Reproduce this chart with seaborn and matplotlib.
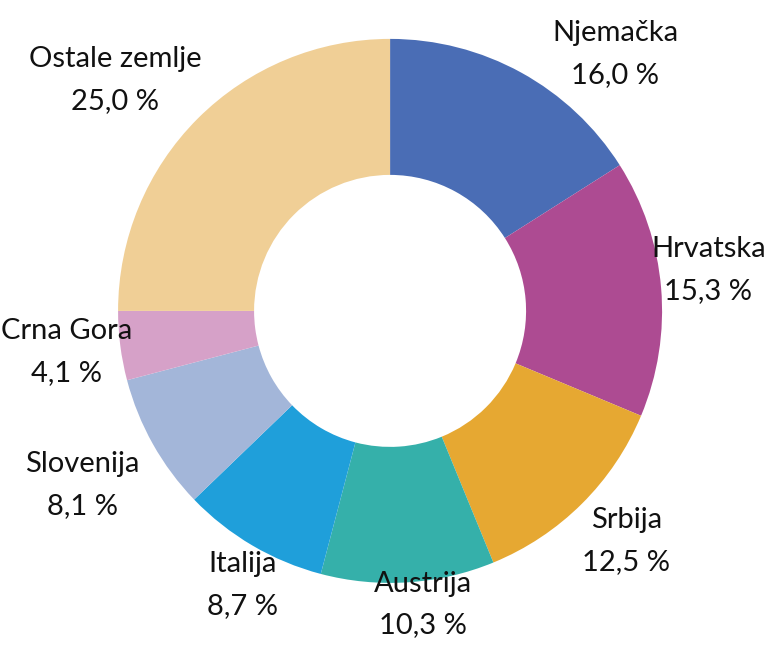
import seaborn as sns
import matplotlib.pyplot as plt

# Podaci
zemlje = ['Njemačka', 'Hrvatska', 'Srbija', 'Austrija', 'Italija',
          'Slovenija', 'Crna Gora', 'Ostale zemlje']
udjeli = [16.0, 15.3, 12.5, 10.3, 8.7, 8.1, 4.1, 25.0]
boje = ['#4a6db5', '#ad4b92', '#e6a832', '#35b0aa', '#1f9fda',
        '#a3b6d9', '#d6a1c8', '#f0cf96']

sns.set_theme(style='white')
plt.rcParams['font.family'] = ['Lato', 'DejaVu Sans']

fig = plt.figure(figsize=(7.69, 6.46), dpi=100)
ax = fig.add_axes([0, 0, 1, 1])

wedges, _ = ax.pie(udjeli, colors=boje, startangle=90, counterclock=False,
                   radius=1.0, wedgeprops=dict(width=0.5, linewidth=0))

# pozicije etiketa (centar bloka teksta)
poz = [(0.827, 0.945), (1.17, 0.15), (0.868, -0.846), (0.121, -1.08),
       (-0.544, -1.007), (-1.132, -0.64), (-1.188, -0.151), (-1.011, 0.849)]
for z, u, (x, y) in zip(zemlje, udjeli, poz):
    txt = f"{z}\n{u:.1f} %".replace('.', ',')
    ax.text(x, y, txt, ha='center', va='center', fontsize=21,
            linespacing=1.75, color='#111111')

ax.set_xlim(-1.434, 1.393)
ax.set_ylim(-1.232, 1.143)
ax.set_aspect('equal')
ax.axis('off')

plt.savefig('out.png', dpi=100)
